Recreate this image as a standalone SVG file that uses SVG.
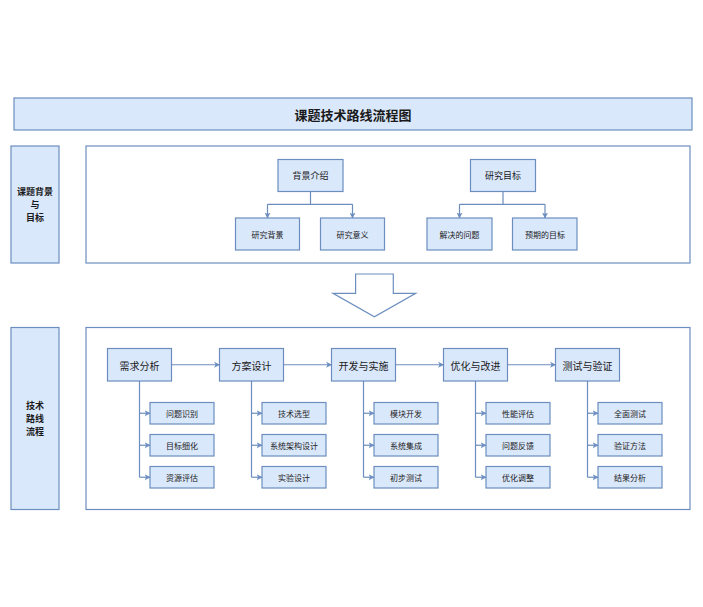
<svg xmlns="http://www.w3.org/2000/svg" width="703" height="607" viewBox="0 0 703 607">
<defs>
<marker id="ah" viewBox="0 0 10 10" refX="9" refY="5" markerWidth="5" markerHeight="5" orient="auto" markerUnits="strokeWidth">
<path d="M0,0 L10,5 L0,10 L2.5,5 z" fill="#6c8ebf"/>
</marker>
<style>
.n{fill:#dae8fc;stroke:#6c8ebf;stroke-width:1.2}
.c{fill:#ffffff;stroke:#6c8ebf;stroke-width:1.2}
.t{font-family:"Noto Sans CJK SC","Noto Sans",sans-serif;fill:#1a1a1a;text-anchor:middle;dominant-baseline:central}
.title{font-size:13px;font-weight:bold}
.lab{font-size:9px;font-weight:bold}
.m{font-size:10px}
.s{font-size:8px}
.e{fill:none;stroke:#6c8ebf;stroke-width:1.2;marker-end:url(#ah)}
.l{fill:none;stroke:#6c8ebf;stroke-width:1.2}
</style>
</defs>
<rect width="703" height="607" fill="#ffffff"/>

<g id="title"><rect class="n" x="14" y="98" width="678" height="32"/><text class="t title" x="353" y="114">课题技术路线流程图</text></g>

<g id="label1"><rect class="n" x="11" y="146" width="48" height="117"/>
<text class="t lab" x="35" y="191.5">课题背景</text><text class="t lab" x="35" y="204.5">与</text><text class="t lab" x="35" y="217.5">目标</text></g>
<g id="container1"><rect class="c" x="86" y="146" width="604" height="117"/></g>

<g id="bg"><rect class="n" x="278" y="159.5" width="65" height="32"/><text class="t s" x="310.5" y="175.5" style="font-size:9px">背景介绍</text></g>
<g id="goal"><rect class="n" x="470.5" y="159.5" width="65" height="32"/><text class="t s" x="503" y="175.5" style="font-size:9px">研究目标</text></g>
<g id="bg1"><rect class="n" x="235.5" y="218" width="64" height="32"/><text class="t s" x="267.5" y="234">研究背景</text></g>
<g id="bg2"><rect class="n" x="320.5" y="218" width="64" height="32"/><text class="t s" x="352.5" y="234">研究意义</text></g>
<g id="goal1"><rect class="n" x="427" y="218" width="65" height="32"/><text class="t s" x="459.5" y="234">解决的问题</text></g>
<g id="goal2"><rect class="n" x="512.5" y="218" width="64.5" height="32"/><text class="t s" x="545" y="234">预期的目标</text></g>

<g id="bigarrow"><polygon points="355.6,274 393.3,274 393.3,293.3 415.7,293.3 374.4,316.7 333,293.3 355.6,293.3" fill="#ffffff" stroke="#6c8ebf" stroke-width="1.2"/></g>

<g id="label2"><rect class="n" x="11" y="327.5" width="48" height="182"/>
<text class="t lab" x="35" y="405.5">技术</text><text class="t lab" x="35" y="418.5">路线</text><text class="t lab" x="35" y="431.5">流程</text></g>
<g id="container2"><rect class="c" x="86" y="327.5" width="604" height="182"/></g>

<g id="p1"><rect class="n" x="107.5" y="348.5" width="64" height="32.5"/><text class="t m" x="139.5" y="365">需求分析</text></g>
<g id="p2"><rect class="n" x="219.5" y="348.5" width="64" height="32.5"/><text class="t m" x="251.5" y="365">方案设计</text></g>
<g id="p3"><rect class="n" x="331.5" y="348.5" width="64" height="32.5"/><text class="t m" x="363.5" y="365">开发与实施</text></g>
<g id="p4"><rect class="n" x="443.5" y="348.5" width="64" height="32.5"/><text class="t m" x="475.5" y="365">优化与改进</text></g>
<g id="p5"><rect class="n" x="555.5" y="348.5" width="64" height="32.5"/><text class="t m" x="587.5" y="365">测试与验证</text></g>

<g id="p1a"><rect class="n" x="150" y="402.5" width="64" height="21.5"/><text class="t s" x="182" y="413.25">问题识别</text></g>
<g id="p1b"><rect class="n" x="150" y="434.5" width="64" height="21.5"/><text class="t s" x="182" y="445.25">目标细化</text></g>
<g id="p1c"><rect class="n" x="150" y="466.5" width="64" height="21.5"/><text class="t s" x="182" y="477.25">资源评估</text></g>
<g id="p2a"><rect class="n" x="262" y="402.5" width="64" height="21.5"/><text class="t s" x="294" y="413.25">技术选型</text></g>
<g id="p2b"><rect class="n" x="262" y="434.5" width="64" height="21.5"/><text class="t s" x="294" y="445.25">系统架构设计</text></g>
<g id="p2c"><rect class="n" x="262" y="466.5" width="64" height="21.5"/><text class="t s" x="294" y="477.25">实验设计</text></g>
<g id="p3a"><rect class="n" x="374" y="402.5" width="64" height="21.5"/><text class="t s" x="406" y="413.25">模块开发</text></g>
<g id="p3b"><rect class="n" x="374" y="434.5" width="64" height="21.5"/><text class="t s" x="406" y="445.25">系统集成</text></g>
<g id="p3c"><rect class="n" x="374" y="466.5" width="64" height="21.5"/><text class="t s" x="406" y="477.25">初步测试</text></g>
<g id="p4a"><rect class="n" x="486" y="402.5" width="64" height="21.5"/><text class="t s" x="518" y="413.25">性能评估</text></g>
<g id="p4b"><rect class="n" x="486" y="434.5" width="64" height="21.5"/><text class="t s" x="518" y="445.25">问题反馈</text></g>
<g id="p4c"><rect class="n" x="486" y="466.5" width="64" height="21.5"/><text class="t s" x="518" y="477.25">优化调整</text></g>
<g id="p5a"><rect class="n" x="598" y="402.5" width="64" height="21.5"/><text class="t s" x="630" y="413.25">全面测试</text></g>
<g id="p5b"><rect class="n" x="598" y="434.5" width="64" height="21.5"/><text class="t s" x="630" y="445.25">验证方法</text></g>
<g id="p5c"><rect class="n" x="598" y="466.5" width="64" height="21.5"/><text class="t s" x="630" y="477.25">结果分析</text></g>

<g id="connectors">
<path class="l" d="M310.5,191.5 V204.3 M267.5,204.3 H352.5"/>
<path class="e" d="M267.5,204.3 V218"/>
<path class="e" d="M352.5,204.3 V218"/>
<path class="l" d="M503,191.5 V204.3 M459.5,204.3 H545"/>
<path class="e" d="M459.5,204.3 V218"/>
<path class="e" d="M545,204.3 V218"/>

<path class="e" d="M171.5,364.75 H219.5"/>
<path class="e" d="M283.5,364.75 H331.5"/>
<path class="e" d="M395.5,364.75 H443.5"/>
<path class="e" d="M507.5,364.75 H555.5"/>

<path class="l" d="M139.5,381 V477.25"/>
<path class="e" d="M139.5,413.25 H150"/><path class="e" d="M139.5,445.25 H150"/><path class="e" d="M139.5,477.25 H150"/>
<path class="l" d="M251.5,381 V477.25"/>
<path class="e" d="M251.5,413.25 H262"/><path class="e" d="M251.5,445.25 H262"/><path class="e" d="M251.5,477.25 H262"/>
<path class="l" d="M363.5,381 V477.25"/>
<path class="e" d="M363.5,413.25 H374"/><path class="e" d="M363.5,445.25 H374"/><path class="e" d="M363.5,477.25 H374"/>
<path class="l" d="M475.5,381 V477.25"/>
<path class="e" d="M475.5,413.25 H486"/><path class="e" d="M475.5,445.25 H486"/><path class="e" d="M475.5,477.25 H486"/>
<path class="l" d="M587.5,381 V477.25"/>
<path class="e" d="M587.5,413.25 H598"/><path class="e" d="M587.5,445.25 H598"/><path class="e" d="M587.5,477.25 H598"/>
</g>
</svg>
